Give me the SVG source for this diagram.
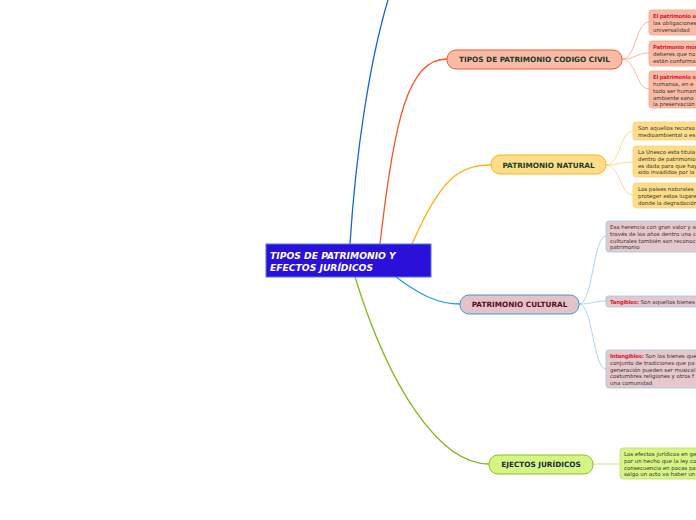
<svg xmlns="http://www.w3.org/2000/svg" width="696" height="520" viewBox="0 0 696 520">
<style>
.c{fill:none;stroke-width:1.3}
.s{fill:none;stroke-width:0.8}
.t{font-family:"DejaVu Sans",Verdana,sans-serif}
.main{font-size:7.3px;font-weight:bold}
.sub{font-size:5.45px;fill:#333}
.red{fill:#e0203a;font-weight:bold;letter-spacing:-0.25px}
</style>
<rect width="696" height="520" fill="#ffffff"/>
<g id="connectors">
<path class="c" stroke="#1766c8" d="M350,244 C356,150 370,60 388,0"/>
<path class="c" stroke="#f05a28" d="M380,244 C394,120 408,59 447,59"/>
<path class="c" stroke="#f9b418" d="M412,244 C440,180 458,165 491,165"/>
<path class="c" stroke="#1fa0e0" d="M396,277 C420,295 438,304 460,304"/>
<path class="c" stroke="#84b81a" d="M355,277 C390,390 440,464 489,464"/>
<path class="s" stroke="#f5a389" d="M622,59 C636,59 636,22 649,22 M622,59 C636,59 636,53 649,53 M622,59 C636,59 636,89 649,89"/>
<path class="s" stroke="#fbd27a" d="M606,165 C620,165 620,131 633,131 M606,165 C620,165 620,162 633,162 M606,165 C620,165 620,195 633,195"/>
<path class="s" stroke="#8ecdf0" d="M579,304 C593,304 593,236 606,236 M579,304 C593,304 593,301 606,301 M579,304 C593,304 593,369 606,369"/>
<path class="s" stroke="#b8e070" d="M593,464 L620,464"/>
</g>
<g id="central">
<rect x="266" y="244" width="165" height="33" fill="#2a10d8" stroke="#4a7de8" stroke-width="1"/>
<text class="t" x="270" y="259" font-size="9.2" font-weight="bold" font-style="italic" fill="#ffffff">TIPOS DE PATRIMONIO Y</text>
<text class="t" x="270" y="270.5" font-size="9.2" font-weight="bold" font-style="italic" fill="#ffffff">EFECTOS JURÍDICOS</text>
</g>
<g id="codigo-civil">
<rect x="447" y="50" width="175" height="19" rx="9" fill="#f9bba5" stroke="#f05a28" stroke-width="1"/>
<text class="t main" x="534.5" y="62" text-anchor="middle" fill="#1a3d2a">TIPOS DE PATRIMONIO CODIGO CIVIL</text>
</g>
<g id="cc1">
<rect x="649" y="10" width="60" height="25" rx="3" fill="#f9bba5" stroke="#f5a389" stroke-width="0.8"/>
<text class="t sub" x="653" y="18"><tspan class="red">El patrimonio ec</tspan></text>
<text class="t sub" x="653" y="25">las obligaciones</text>
<text class="t sub" x="653" y="32">universalidad</text>
</g>
<g id="cc2">
<rect x="649" y="41" width="60" height="25" rx="3" fill="#f9bba5" stroke="#f5a389" stroke-width="0.8"/>
<text class="t sub" x="653" y="49"><tspan class="red">Patrimonio moral</tspan></text>
<text class="t sub" x="653" y="56">deberes que no</text>
<text class="t sub" x="653" y="63">están conforma</text>
</g>
<g id="cc3">
<rect x="649" y="71" width="60" height="37" rx="3" fill="#f9bba5" stroke="#f5a389" stroke-width="0.8"/>
<text class="t sub" x="653" y="79"><tspan class="red">El patrimonio so</tspan></text>
<text class="t sub" x="653" y="86">humanos, en e</text>
<text class="t sub" x="653" y="93">todo ser human</text>
<text class="t sub" x="653" y="99.5">ambiente sano</text>
<text class="t sub" x="653" y="106">la preservación</text>
</g>
<g id="natural">
<rect x="491" y="155" width="115" height="19" rx="9" fill="#fedd8a" stroke="#f9b418" stroke-width="1"/>
<text class="t main" x="548.5" y="167.5" text-anchor="middle" fill="#1a3d2a">PATRIMONIO NATURAL</text>
</g>
<g id="nat1">
<rect x="633" y="122" width="80" height="18" rx="3" fill="#fedd8a" stroke="#fbd27a" stroke-width="0.8"/>
<text class="t sub" x="638" y="130">Son aquellos recurso</text>
<text class="t sub" x="638" y="137">medioambiental o es</text>
</g>
<g id="nat2">
<rect x="633" y="146" width="80" height="31" rx="3" fill="#fedd8a" stroke="#fbd27a" stroke-width="0.8"/>
<text class="t sub" x="638" y="154">La Unesco esta titula</text>
<text class="t sub" x="638" y="161">dentro de patrimonio</text>
<text class="t sub" x="638" y="167.5">es dada para que hay</text>
<text class="t sub" x="638" y="174">sido invadidos por la</text>
</g>
<g id="nat3">
<rect x="633" y="183" width="80" height="25" rx="3" fill="#fedd8a" stroke="#fbd27a" stroke-width="0.8"/>
<text class="t sub" x="638" y="191">Los países naturales</text>
<text class="t sub" x="638" y="198">proteger estos lugare</text>
<text class="t sub" x="638" y="205">donde la degradación</text>
</g>
<g id="cultural">
<rect x="460" y="295" width="119" height="19" rx="9" fill="#e4c3c8" stroke="#2f9ee0" stroke-width="1"/>
<text class="t main" x="519.5" y="307" text-anchor="middle" fill="#5a0c1e">PATRIMONIO CULTURAL</text>
</g>
<g id="cul1">
<rect x="606" y="221" width="100" height="31" rx="3" fill="#e6c8cc" stroke="#8ecdf0" stroke-width="0.8"/>
<text class="t sub" x="610" y="229">Esa herencia con gran valor y a</text>
<text class="t sub" x="610" y="236">través de los años dentro una c</text>
<text class="t sub" x="610" y="242.5">culturales también son reconoc</text>
<text class="t sub" x="610" y="249">patrimonio</text>
</g>
<g id="cul2">
<rect x="606" y="296" width="100" height="11" rx="2" fill="#e6c8cc" stroke="#8ecdf0" stroke-width="0.8"/>
<text class="t sub" x="610" y="303.5"><tspan class="red">Tangibles:</tspan> Son aquellos bienes</text>
</g>
<g id="cul3">
<rect x="606" y="350" width="100" height="38" rx="3" fill="#e6c8cc" stroke="#8ecdf0" stroke-width="0.8"/>
<text class="t sub" x="610" y="358"><tspan class="red">Intangibles:</tspan> Son los bienes que</text>
<text class="t sub" x="610" y="365">conjunto de tradiciones que pa</text>
<text class="t sub" x="610" y="371.5">generación pueden ser musical</text>
<text class="t sub" x="610" y="378">costumbres religiones y otros f</text>
<text class="t sub" x="610" y="384.5">una comunidad</text>
</g>
<g id="juridicos">
<rect x="489" y="455" width="104" height="19" rx="9" fill="#d6f585" stroke="#8dc21f" stroke-width="1"/>
<text class="t main" x="541" y="467" text-anchor="middle" fill="#1a2a3a">EJECTOS JURÍDICOS</text>
</g>
<g id="jur1">
<rect x="620" y="448" width="90" height="31" rx="3" fill="#d6f585" stroke="#b8e070" stroke-width="0.8"/>
<text class="t sub" x="624" y="456">Los efectos jurídicos en ge</text>
<text class="t sub" x="624" y="463">por un hecho que la ley co</text>
<text class="t sub" x="624" y="469.5">consecuencia en pocas pal</text>
<text class="t sub" x="624" y="476">salgo un acto va haber un</text>
</g>
</svg>
